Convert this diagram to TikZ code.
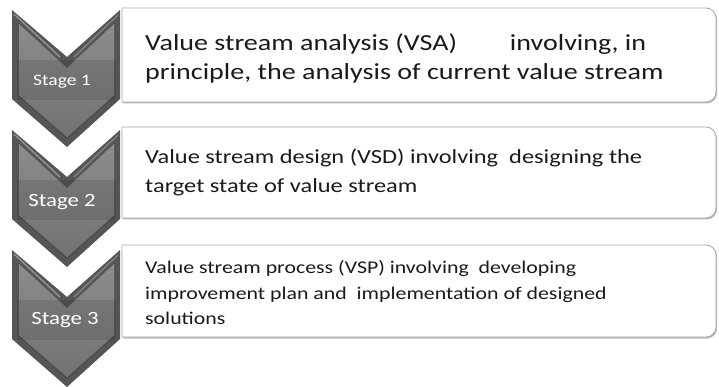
\documentclass[tikz,border=0pt]{standalone}
\usepackage{fontspec}
\setmainfont{Carlito}[FakeStretch=1.22]
\usetikzlibrary{shadows}
\definecolor{chevdark}{HTML}{555555}
\definecolor{chevmid}{HTML}{727272}
\definecolor{chevlight}{HTML}{8C8C8C}
\definecolor{txt}{HTML}{1A1A1A}
\tikzset{
  stepbox/.style={draw=black!35, line width=0.8pt, fill=white,
    drop shadow={shadow xshift=1pt, shadow yshift=-1.5pt, fill=black!45, opacity=0.6}},
  steptext/.style={anchor=west, align=left, inner sep=0pt, text=txt},
  stagelabel/.style={text=white, inner sep=0pt},
}
\newcommand{\chev}[2]{%
  \fill[chevdark] (12,#1) -- (67,#1+47) -- (120,#1) -- (120,#1+89) -- (67,#1+137) -- (12,#1+89) -- cycle;
  \shade[top color=chevlight, bottom color=chevmid]
    (19,#1+14) -- (67,#1+58) -- (114,#1+14) -- (114,#1+86) -- (67,#1+128) -- (19,#1+86) -- cycle;
  \fill[black, opacity=0.10] (17,#1+50) rectangle (116,#1+90);
  \draw[white, opacity=0.35, line width=1.5pt] (14,#1+4) -- (60,#1+47);
  \draw[white, opacity=0.25, line width=1.5pt] (118,#1+5) -- (74,#1+47);
  \draw[black, opacity=0.25, line width=1pt] (19,#1+86) -- (67,#1+128) -- (114,#1+86);
  \coordinate (#2) at (67,#1+72);
}
\newcommand{\stepframe}[2]{%
  \path[stepbox] (122,#1) -- (706,#1) arc[start angle=-90,end angle=0,radius=10]
    -- (716,#2-10) arc[start angle=0,end angle=90,radius=10] -- (122,#2) -- cycle;
}
\begin{document}
\begin{tikzpicture}[x=1pt,y=-1pt]
\useasboundingbox (0,0) rectangle (719,387);
% boxes
\stepframe{8}{102}
\stepframe{127}{218}
\stepframe{245}{337}
% chevrons
\chev{10}{c1}
\chev{130}{c2}
\chev{250}{c3}
\node[stagelabel, font=\fontsize{16}{19}\selectfont] (s1) at (62,82) {Stage 1};
\node[stagelabel, font=\fontsize{18.7}{22}\selectfont] (s2) at (62,202) {Stage 2};
\node[stagelabel, font=\fontsize{18.7}{22}\selectfont] (s3) at (65,320) {Stage 3};
% texts
\node[steptext, font=\fontsize{23}{29}\selectfont] (t1) at (145,58)
  {Value stream analysis (VSA)\hspace{2.3em}involving, in\\principle, the analysis of current value stream};
\node[steptext, font=\fontsize{20}{29}\selectfont] (t2) at (145,172)
  {Value stream design (VSD) involving\ \ designing the\\target state of value stream};
\node[steptext, font=\fontsize{17.9}{25.5}\selectfont] (t3) at (145,293)
  {Value stream process (VSP) involving\ \ developing\\improvement plan and\ \ implementation of designed\\solutions};
\end{tikzpicture}
\end{document}
